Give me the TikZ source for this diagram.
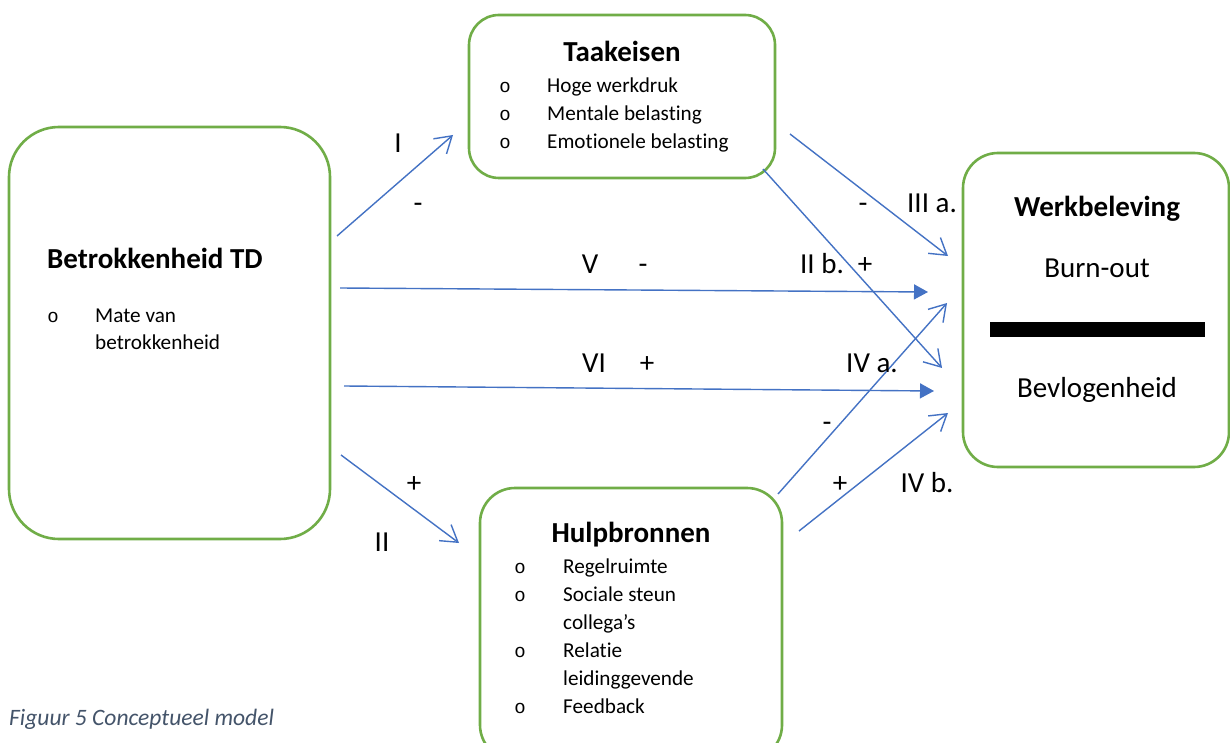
\documentclass[tikz,border=0pt]{standalone}
\usepackage{fontspec}
\setmainfont{Carlito}[Ligatures=NoCommon]
\newfontfamily\bulletfont{Liberation Mono}
\usetikzlibrary{arrows.meta}
\definecolor{boxgreen}{HTML}{70AD47}
\definecolor{arrowblue}{HTML}{4472C4}
\definecolor{captiongray}{HTML}{44546A}

\begin{document}
\begin{tikzpicture}[x=1pt,y=-1pt,
  box/.style={draw=boxgreen, line width=2.6pt, fill=white, inner sep=0pt, outer sep=0pt},
  title/.style={font=\fontsize{29}{34}\selectfont\bfseries, anchor=base, inner sep=0pt},
  item/.style={font=\fontsize{21.2}{25}\selectfont, anchor=base west, inner sep=0pt},
  dot/.style={font=\bulletfont\fontsize{19}{22}\selectfont, anchor=base, inner sep=0pt},
  lbl/.style={font=\fontsize{29}{34}\selectfont, anchor=base, inner sep=0pt},
  link/.style={draw=arrowblue, line width=1.4pt, -{Straight Barb[length=16pt,width=20pt]}},
  flow/.style={draw=arrowblue, line width=1.4pt, -{Triangle[length=14pt,width=15pt]}},
]
\useasboundingbox[fill=white] (0,0) rectangle (1230,743);

% boxes
\node[box, rounded corners=50pt, minimum width=321pt, minimum height=412pt] (betr) at (169.5,333) {};
\node[box, rounded corners=30pt, minimum width=306pt, minimum height=163pt] (taak) at (622,96.5) {};
\node[box, rounded corners=35pt, minimum width=302pt, minimum height=272pt] (hulp) at (631,624) {};
\node[box, rounded corners=35pt, minimum width=266pt, minimum height=314pt] (werk) at (1096,310) {};

% Betrokkenheid TD
\node[title, anchor=base west] (betrT) at (47,268) {Betrokkenheid TD};
\node[dot] (betrD) at (53,322) {o};
\node[item] (betr1) at (95,322) {Mate van};
\node[item] (betr2) at (95,349) {betrokkenheid};

% Taakeisen
\node[title] (taakT) at (622,62) {Taakeisen};
\node[dot] (taakD1) at (505,93) {o};
\node[dot] (taakD2) at (505,121) {o};
\node[dot] (taakD3) at (505,149) {o};
\node[item] (taak1) at (547,93) {Hoge werkdruk};
\node[item] (taak2) at (547,121) {Mentale belasting};
\node[item] (taak3) at (547,149) {Emotionele belasting};

% Hulpbronnen
\node[title] (hulpT) at (631,542) {Hulpbronnen};
\node[dot] (hulpD1) at (520,573) {o};
\node[dot] (hulpD2) at (520,601) {o};
\node[dot] (hulpD3) at (520,657) {o};
\node[dot] (hulpD4) at (520,713) {o};
\node[item] (hulp1) at (563,573) {Regelruimte};
\node[item] (hulp2) at (563,601) {Sociale steun};
\node[item] (hulp3) at (563,629) {collega’s};
\node[item] (hulp4) at (563,657) {Relatie};
\node[item] (hulp5) at (563,685) {leidinggevende};
\node[item] (hulp6) at (563,713) {Feedback};

% Werkbeleving
\node[title] (werkT) at (1097,217) {Werkbeleving};
\node[lbl] (werk1) at (1097,277) {Burn-out};
\fill (990,322) rectangle (1205,337);
\node[lbl] (werk2) at (1097,397) {Bevlogenheid};

% arrow end points
\coordinate (iS) at (337,236);    \coordinate (iE) at (453,135);
\coordinate (iiS) at (341,455);   \coordinate (iiE) at (459,543);
\coordinate (vS) at (340,288);    \coordinate (vE) at (928,292);
\coordinate (viS) at (344,386);   \coordinate (viE) at (934,391);
\coordinate (iiiaS) at (790,134); \coordinate (iiiaE) at (948,256);
\coordinate (iibS) at (763,169);  \coordinate (iibE) at (942,368);
\coordinate (ivaS) at (778,494);  \coordinate (ivaE) at (947,303);
\coordinate (ivbS) at (799,531);  \coordinate (ivbE) at (948,413);

\draw[link] (iS) -- (iE);
\draw[link] (iiS) -- (iiE);
\draw[flow] (vS) -- (vE);
\draw[flow] (viS) -- (viE);
\draw[link] (iiiaS) -- (iiiaE);
\draw[link] (iibS) -- (iibE);
\draw[link] (ivaS) -- (ivaE);
\draw[link] (ivbS) -- (ivbE);

% path labels
\node[lbl] (lI) at (398,153) {I};
\node[lbl] (lIs) at (418,213) {-};
\node[lbl] (lIIs) at (414,492) {+};
\node[lbl] (lII) at (382,551) {II};
\node[lbl] (lV) at (590,273) {V};
\node[lbl] (lVs) at (643,273) {-};
\node[lbl] (lVI) at (594,372) {VI};
\node[lbl] (lVIs) at (647,372) {+};
\node[lbl] (lIIb) at (822,273) {II b.};
\node[lbl] (lIIbs) at (865,273) {+};
\node[lbl] (lIIIas) at (863,213) {-};
\node[lbl] (lIIIa) at (932,213) {III a.};
\node[lbl] (lIVa) at (872,372) {IV a.};
\node[lbl] (lIVas) at (827,431) {-};
\node[lbl] (lIVbs) at (840,492) {+};
\node[lbl] (lIVb) at (927,492) {IV b.};

% caption
\node[font=\fontsize{23.5}{28}\selectfont\itshape, text=captiongray, anchor=base west, inner sep=0pt] (caption) at (9,725) {Figuur 5 Conceptueel model};
\end{tikzpicture}
\end{document}
